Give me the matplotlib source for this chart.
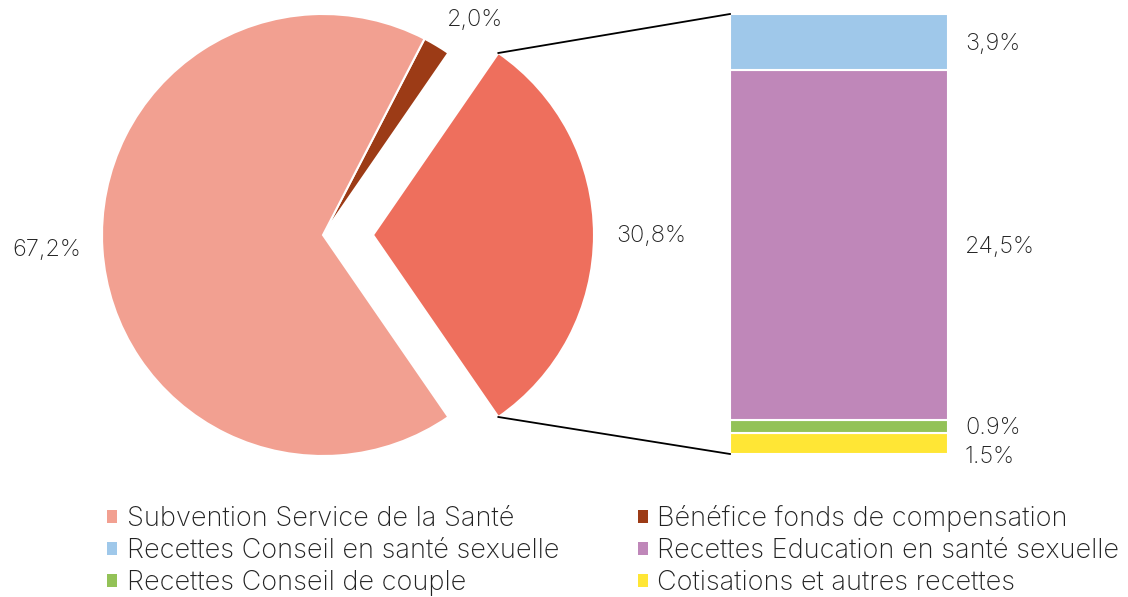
import numpy as np
import matplotlib
matplotlib.use("Agg")
import matplotlib.pyplot as plt
from matplotlib.patches import Patch

# ---- data ----
pie_labels = ["Recettes totales", "Bénéfice fonds de compensation", "Subvention Service de la Santé"]
pie_values = [30.8, 2.0, 67.2]
pie_texts = ["30,8%", "2,0%", "67,2%"]
pie_colors = ["#EE6F5D", "#9C3B16", "#F2A091"]

bar_labels = ["Cotisations et autres recettes", "Recettes Conseil de couple",
              "Recettes Education en santé sexuelle", "Recettes Conseil en santé sexuelle"]
bar_values = [1.5, 0.9, 24.5, 3.9]
bar_texts = ["1.5%", "0.9%", "24,5%", "3,9%"]
bar_colors = ["#FFE635", "#93C257", "#BF87B9", "#9FC8EA"]

legend_labels = ["Subvention Service de la Santé", "Bénéfice fonds de compensation",
                 "Recettes Conseil en santé sexuelle", "Recettes Education en santé sexuelle",
                 "Recettes Conseil de couple", "Cotisations et autres recettes"]
legend_colors = ["#F2A091", "#9C3B16", "#9FC8EA", "#BF87B9", "#93C257", "#FFE635"]

# ---- font ----
plt.rcParams["font.family"] = ["Inter", "DejaVu Sans"]
plt.rcParams["font.weight"] = "light"
TXT = "#222222"
FS = 17
LFS = 19.5

W, H = 1128, 597
fig = plt.figure(figsize=(W / 100, H / 100), dpi=100)
ax = fig.add_axes([0, 0, 1, 1])

# pie geometry (pixel units, y up)
cx, cy = 323, H - 235
R = 221
off = 50
span = pie_values[0] / 100 * 360
start = -span / 2
ax.pie(pie_values, colors=pie_colors, startangle=start, counterclock=True,
       radius=R, center=(cx, cy), explode=[off, 0, 0], frame=True,
       wedgeprops=dict(edgecolor="white", linewidth=1.5))
ax.set_xlim(0, W)
ax.set_ylim(0, H)
ax.set_aspect("auto")
ax.axis("off")

# pie labels
ax.text(47, H - 250, pie_texts[2], ha="center", va="center", fontsize=FS, color=TXT)
ax.text(475, H - 20, pie_texts[1], ha="center", va="center", fontsize=FS, color=TXT)
ax.text(651, H - 236, pie_texts[0], ha="center", va="center", fontsize=FS, color=TXT)

# bar
bx0, bw = 730, 218
btop, bbot = H - 14, H - 454
scale = (btop - bbot) / sum(bar_values)
heights = np.array(bar_values) * scale
bottoms = bbot + np.concatenate([[0], np.cumsum(heights)[:-1]])
ax.bar([bx0 + bw / 2] * len(bar_values), heights, width=bw, bottom=bottoms,
       color=bar_colors, edgecolor="white", linewidth=1.5)

label_shift = [-12, 0, 0, 0]
for b, h, t, s in zip(bottoms, heights, bar_texts, label_shift):
    ax.text(965, b + h / 2 + s - 2, t, ha="left", va="center", fontsize=FS, color=TXT)

# connector lines
a = np.deg2rad(span / 2)
ex = cx + off
ax.plot([ex + R * np.cos(a), bx0], [cy + R * np.sin(a), btop], color="black", lw=1.3)
ax.plot([ex + R * np.cos(a), bx0], [cy - R * np.sin(a), bbot], color="black", lw=1.3)

# legend (row-wise order)
order = [0, 2, 4, 1, 3, 5]
handles = [Patch(facecolor=legend_colors[i], edgecolor="none") for i in order]
labels = [legend_labels[i] for i in order]
fig.legend(handles, labels, ncol=2, loc="upper left", bbox_to_anchor=(107 / W, 1 - 505 / H),
           frameon=False, fontsize=LFS, handlelength=0.38, handleheight=0.38,
           handletextpad=0.35, columnspacing=2.9, labelspacing=0.22,
           labelcolor=TXT, borderaxespad=0, borderpad=0)

fig.savefig("out.png", dpi=100)
